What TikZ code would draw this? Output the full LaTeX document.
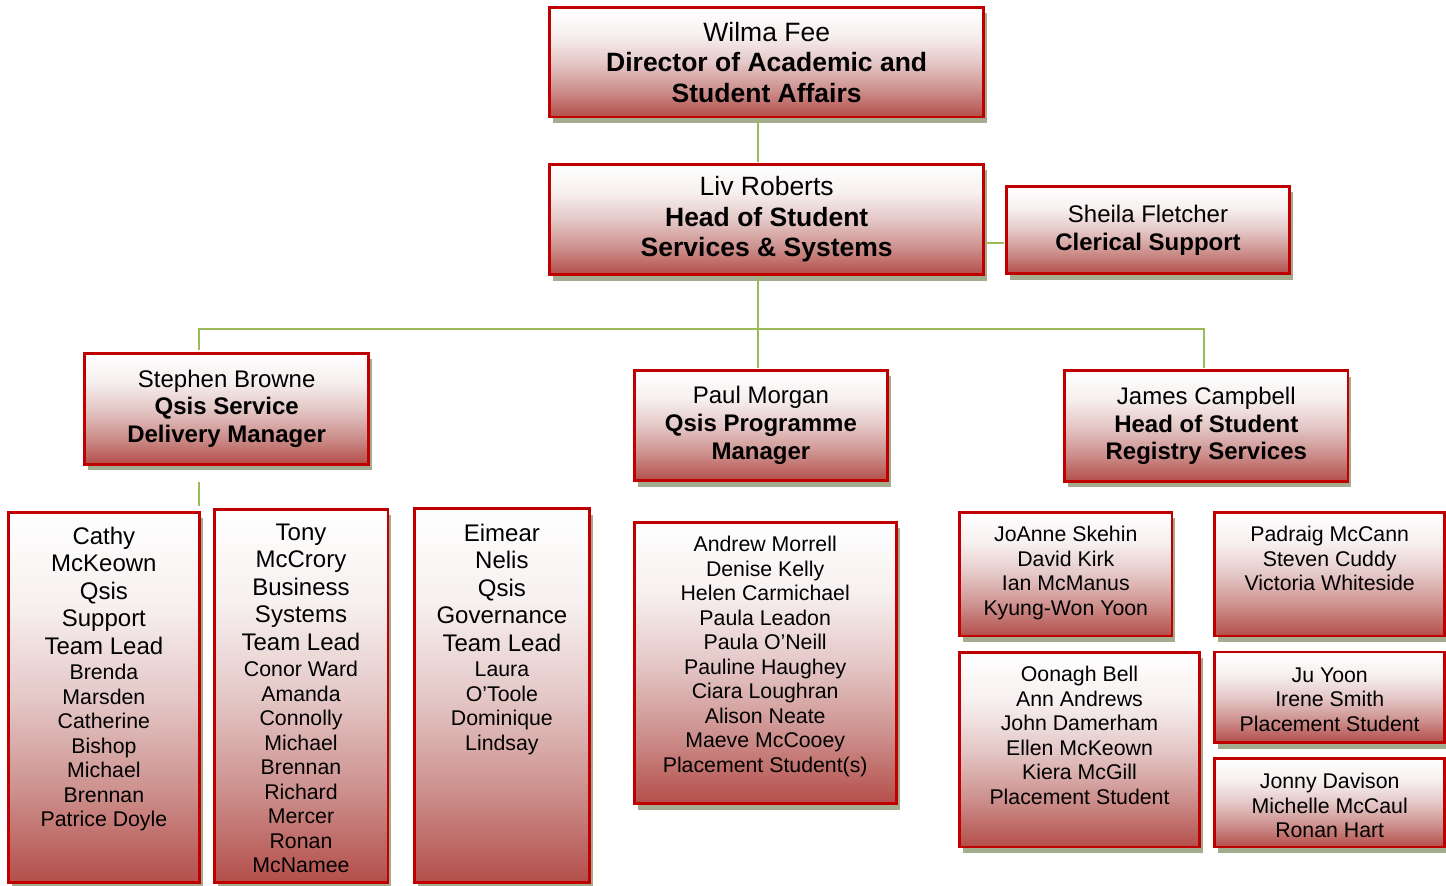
\documentclass[tikz,border=0pt]{standalone}
\usepackage{fontspec}
\setmainfont{Liberation Sans}
\usetikzlibrary{positioning,shadows}
\definecolor{boxred}{RGB}{192,0,0}
\definecolor{boxrose}{RGB}{180,78,74}
\definecolor{deeprose}{RGB}{205,145,142}
\definecolor{midrose}{RGB}{228,200,199}
\definecolor{palerose}{RGB}{247,240,240}
\definecolor{shadegreen}{RGB}{163,172,143}
\definecolor{linkgreen}{RGB}{155,187,89}
\pgfdeclareverticalshading{unitshade}{100bp}{color(0bp)=(boxrose); color(25bp)=(boxrose);
  color(37.5bp)=(deeprose); color(50bp)=(midrose); color(62.5bp)=(palerose);
  color(75bp)=(white); color(100bp)=(white)}
\tikzset{%
  unit/.style   = {shape=rectangle, draw=boxred, line width=2.8pt,%
                   shade, shading=unitshade, align=center,%
                   inner sep=0pt,%
                   drop shadow={shadow xshift=3.5pt, shadow yshift=-6pt,%
                                fill=shadegreen, opacity=1}},%
  chief/.style  = {unit, font=\fontsize{26.5}{30.5}\selectfont},%
  head/.style   = {unit, font=\fontsize{24}{27.8}\selectfont},%
  lead/.style   = {align=center, inner sep=0pt, font=\fontsize{24}{27.5}\selectfont},%
  staff/.style  = {align=center, inner sep=0pt, font=\fontsize{21.3}{24.5}\selectfont},%
  link/.style   = {draw=linkgreen, line width=2pt, shorten <=1.4pt, shorten >=1.4pt}%
}

\begin{document}
\begin{tikzpicture}[x=1pt,y=-1pt]
	\useasboundingbox (0,0) rectangle (1446,886);
	% senior management
	\node[chief, minimum width=433.9, minimum height=109.5] (wilma) at (766.7,62.2)
		{Wilma Fee\\\textbf{Director of Academic and}\\\textbf{Student Affairs}};
	\node[chief, minimum width=433.9, minimum height=110.2] (liv) at (766.7,219.5)
		{Liv Roberts\\\textbf{Head of Student}\\\textbf{Services \& Systems}};
	\node[head, minimum width=283.2, minimum height=87.2] (sheila) at (1148,230)
		{Sheila Fletcher\\\textbf{Clerical Support}};
	% managers
	\node[head, minimum width=283.9, minimum height=111.2] (stephen) at (226.7,408.7)
		{Stephen Browne\\\textbf{Qsis Service}\\\textbf{Delivery Manager}};
	\node[head, minimum width=253.5, minimum height=110.2] (paul) at (760.9,425.5)
		{Paul Morgan\\\textbf{Qsis Programme}\\\textbf{Manager}};
	\node[head, minimum width=283.2, minimum height=110.6] (james) at (1206.3,426)
		{James Campbell\\\textbf{Head of Student}\\\textbf{Registry Services}};
	% teams
	\node[unit, minimum width=191.5, minimum height=370.5] (cathy) at (103.9,697.4) {};
	\node[lead, below=16pt of cathy.north] (cathyrole) {Cathy\\McKeown\\Qsis\\Support\\Team Lead};
	\node[staff, below=153.5pt of cathy.north] (cathyteam)
		{Brenda\\Marsden\\Catherine\\Bishop\\Michael\\Brennan\\Patrice Doyle};
	\node[unit, minimum width=173.8, minimum height=373.5] (tony) at (301,695.9) {};
	\node[lead, below=16pt of tony.north] (tonyrole) {Tony\\McCrory\\Business\\Systems\\Team Lead};
	\node[staff, below=153.5pt of tony.north] (tonyteam)
		{Conor Ward\\Amanda\\Connolly\\Michael\\Brennan\\Richard\\Mercer\\Ronan\\McNamee};
	\node[unit, minimum width=175.5, minimum height=373.9] (eimear) at (501.9,695.7) {};
	\node[lead, below=16.5pt of eimear.north] (eimearrole) {Eimear\\Nelis\\Qsis\\Governance\\Team Lead};
	\node[staff, below=154.5pt of eimear.north] (eimearteam)
		{Laura\\O’Toole\\Dominique\\Lindsay};
	\node[unit, minimum width=262.2, minimum height=281.5] (andrew) at (765.2,662.9) {};
	\node[staff, below=15.5pt of andrew.north] (andrewteam)
		{Andrew Morrell\\Denise Kelly\\Helen Carmichael\\Paula Leadon\\Paula O’Neill\\%
		 Pauline Haughey\\Ciara Loughran\\Alison Neate\\Maeve McCooey\\Placement Student(s)};
	\node[unit, minimum width=212.2, minimum height=123.8] (joanne) at (1065.8,574) {};
	\node[staff, below=15.5pt of joanne.north] (joanneteam)
		{JoAnne Skehin\\David Kirk\\Ian McManus\\Kyung-Won Yoon};
	\node[unit, minimum width=229.9, minimum height=123.8] (padraig) at (1329.7,574) {};
	\node[staff, below=15.5pt of padraig.north] (padraigteam)
		{Padraig McCann\\Steven Cuddy\\Victoria Whiteside};
	\node[unit, minimum width=239.6, minimum height=194.8] (oonagh) at (1079.5,749.5) {};
	\node[staff, below=15.5pt of oonagh.north] (oonaghteam)
		{Oonagh Bell\\Ann Andrews\\John Damerham\\Ellen McKeown\\Kiera McGill\\Placement Student};
	\node[unit, minimum width=229.9, minimum height=90.5] (ju) at (1329.7,697.3) {};
	\node[staff, below=16.5pt of ju.north] (juteam)
		{Ju Yoon\\Irene Smith\\Placement Student};
	\node[unit, minimum width=229.9, minimum height=88.8] (jonny) at (1329.7,802.5) {};
	\node[staff, below=16.5pt of jonny.north] (jonnyteam)
		{Jonny Davison\\Michelle McCaul\\Ronan Hart};
	% reporting lines
	\coordinate (spine) at (757.7,329.3);
	\coordinate (leftbus) at (199.3,329.3);
	\coordinate (rightbus) at (1204.3,329.3);
	\coordinate (aside) at (995,242.7);
	\coordinate (stubtop) at (199.3,481.7);
	\coordinate (stubend) at (199.3,505.7);
	\draw[link] (wilma.south -| spine) -- (liv.north -| spine);
	\draw[link] (liv.east |- aside) -- (sheila.west |- aside);
	\draw[link] (liv.south -| spine) -- (paul.north -| spine);
	\draw[link] (stephen.north -| leftbus) -- (leftbus) -- (rightbus) -- (james.north -| rightbus);
	\draw[link, shorten <=0pt, shorten >=0pt] (stubtop) -- (stubend);
\end{tikzpicture}
\end{document}
